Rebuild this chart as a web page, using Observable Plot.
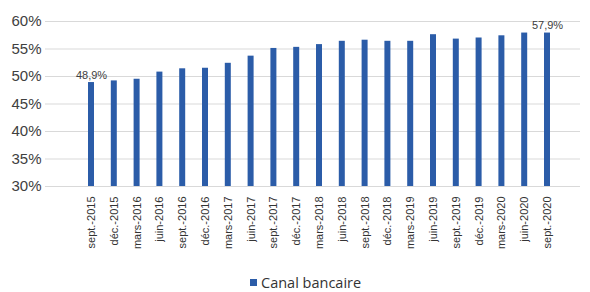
<!DOCTYPE html>
<html>
<head>
<meta charset="utf-8">
<script src="https://cdn.jsdelivr.net/npm/d3@7"></script>
<script src="https://cdn.jsdelivr.net/npm/@observablehq/plot@0.6"></script>
<style>
  html, body { margin: 0; padding: 0; background: #fff; }
  #chart svg { display: block; }
  .legend { position: relative; height: 30px; font-family: "Open Sans", sans-serif; font-size: 14.5px; color: #333; }
  .legend .item { position: absolute; left: 250px; top: 11px; display: flex; align-items: center; }
  .legend .swatch { width: 7px; height: 7px; background: #2B5CA8; margin-right: 4px; }
</style>
</head>
<body>
<div id="chart"></div>
<div class="legend"><div class="item"><div class="swatch"></div><span>Canal bancaire</span></div></div>
<script>
const categories = ["sept.-2015","déc.-2015","mars-2016","juin-2016","sept.-2016","déc.-2016","mars-2017","juin-2017","sept.-2017","déc.-2017","mars-2018","juin-2018","sept.-2018","déc.-2018","mars-2019","juin-2019","sept.-2019","déc.-2019","mars-2020","juin-2020","sept.-2020"];
const values = [48.9, 49.2, 49.5, 50.8, 51.4, 51.5, 52.4, 53.7, 55.1, 55.3, 55.8, 56.4, 56.6, 56.4, 56.4, 57.6, 56.8, 57.0, 57.4, 57.9, 57.9];
const yTicks = [30, 35, 40, 45, 50, 55, 60];
const labeled = ["sept.-2015", "sept.-2020"];

const data = categories.map((c, i) => ({cat: c, value: values[i]}));
const fmt = v => v.toFixed(1).replace(".", ",") + "%";

const chart = Plot.plot({
  width: 590,
  height: 262,
  marginTop: 21,
  marginBottom: 76,
  marginLeft: 45,
  marginRight: 10,
  style: {fontFamily: "'Liberation Sans', Arial, sans-serif", color: "#404040", background: "#fff"},
  x: {domain: categories, paddingInner: 0.737, paddingOuter: 0, insetLeft: 43, insetRight: 30, round: false, label: null},
  y: {domain: [30, 60], label: null},
  marks: [
    Plot.gridY(yTicks, {stroke: "#d9d9d9", strokeOpacity: 1}),
    Plot.barY(data, {x: "cat", y1: 30, y2: "value", fill: "#2B5CA8"}),
    Plot.text(data.filter(d => labeled.includes(d.cat)), {x: "cat", y: "value", text: d => fmt(d.value), lineAnchor: "bottom", dy: -4, fontSize: 11, fill: "#404040"}),
    Plot.axisY({ticks: yTicks, tickFormat: d => d + "%", tickSize: 0, tickPadding: 4, fontSize: 15, label: null}),
    Plot.axisX({tickSize: 0, tickPadding: 10, tickRotate: -90, fontSize: 11, label: null, fill: "#333"})
  ]
});
document.getElementById("chart").appendChild(chart);
</script>
</body>
</html>
